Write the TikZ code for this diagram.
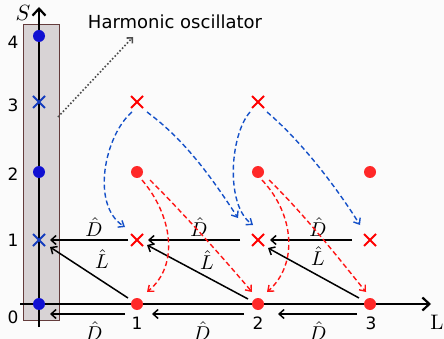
\documentclass[tikz,border=0pt]{standalone}
\usepackage{fontspec}
\setsansfont{DejaVu Sans}
\usetikzlibrary{arrows.meta,shapes.misc,calc}
\definecolor{mblue}{RGB}{16,16,210}
\definecolor{xblue}{RGB}{20,60,190}
\definecolor{dblue}{RGB}{20,80,200}
\definecolor{mred}{RGB}{255,40,40}
\definecolor{xred}{RGB}{255,0,0}
\definecolor{dred}{RGB}{255,20,20}
\definecolor{boxfill}{RGB}{216,211,213}
\definecolor{boxdraw}{RGB}{100,60,60}
\definecolor{bgc}{RGB}{251,251,251}
\newcommand{\opsym}[2][2]{\scalebox{#1}{$#2$}}
\begin{document}
\begin{tikzpicture}[x=1pt,y=-1pt,
  dot/.style={circle,fill=#1,inner sep=0pt,minimum size=12pt},
  xm/.style={cross out,draw=#1,line width=2pt,inner sep=0pt,minimum size=10pt},
  arr/.style={-{Straight Barb[length=5pt,width=9pt]},line width=1.5pt},
  axisline/.style={line width=2.2pt},
  bdash/.style={dash pattern=on 5pt off 3pt,draw=dblue,line width=1.4pt,-{Straight Barb[length=5pt,width=8pt]}},
  rdash/.style={dash pattern=on 5pt off 3pt,draw=dred,line width=1.4pt,-{Straight Barb[length=5pt,width=8pt]}},
  ticklab/.style={font=\fontsize{17}{19}\sffamily\selectfont,inner sep=0pt},
  op/.style={inner sep=0pt}]
\useasboundingbox[fill=bgc] (0,0) rectangle (444,339);
% oscillator box
\draw[fill=boxfill,draw=boxdraw,line width=0.8pt] (23,24) rectangle (59,320);
% axes
\coordinate (yb) at (39,327);
\coordinate (yt) at (39,7);
\coordinate (xl) at (20,304);
\coordinate (xr) at (431,304);
\draw[axisline,-{Straight Barb[length=7pt,width=13pt]}] (yb) -- (yt);
\draw[axisline,-{Straight Barb[length=7pt,width=13pt]}] (xl) -- (xr);
\node[op] (Slab) at (23,13) {\opsym[2.2]{S}};
\node[op] (Llab) at (437,322) {\opsym[2.1]{\mathrm{L}}};
% tick labels
\node[ticklab] (t0) at (13,317) {0};
\node[ticklab] (t1) at (13,240) {1};
\node[ticklab] (t2) at (13,174) {2};
\node[ticklab] (t3) at (13,105) {3};
\node[ticklab] (t4) at (13,42) {4};
\node[ticklab] (l1) at (137,323) {1};
\node[ticklab] (l2) at (258,323) {2};
\node[ticklab] (l3) at (371,323) {3};
% blue markers
\node[dot=mblue] (bd4) at (39,36) {};
\node[xm=xblue] (bx3) at (39,102) {};
\node[dot=mblue] (bd2) at (39,172) {};
\node[xm=xblue] (bx1) at (39,240) {};
\node[dot=mblue] (bd0) at (39,304) {};
% red markers
\node[dot=mred] (rd01) at (137,304) {};
\node[dot=mred] (rd02) at (258,304) {};
\node[dot=mred] (rd03) at (370,304) {};
\node[xm=xred] (rx1) at (137,240) {};
\node[xm=xred] (rx2) at (258,240) {};
\node[xm=xred] (rx3) at (370,240) {};
\node[dot=mred] (rd21) at (137,172) {};
\node[dot=mred] (rd22) at (258,172) {};
\node[dot=mred] (rd23) at (370,172) {};
\node[xm=xred] (rxt1) at (137,102) {};
\node[xm=xred] (rxt2) at (258,102) {};
% harmonic oscillator label
\node[font=\fontsize{18}{20}\sffamily\selectfont,inner sep=0pt] (ho) at (175,22) {Harmonic oscillator};
\coordinate (hoa) at (58,117);
\coordinate (hob) at (133,37);
\draw[dotted,line width=1.6pt,draw=gray!60!black,-{Straight Barb[length=4pt,width=8pt]}] (hoa) -- (hob);
% D arrows level 1
\draw[arr] ($(rx1)+(-9,0)$) -- ($(bx1)+(11,0)$);
\draw[arr] ($(rx2)+(-18,0)$) -- ($(rx1)+(11,0)$);
\draw[arr] ($(rx3)+(-18,0)$) -- ($(rx2)+(12,0)$);
\node[op] (D1) at (94,227) {\opsym{\hat D}};
\node[op] (D2) at (199,227) {\opsym{\hat D}};
\node[op] (D3) at (318,227) {\opsym{\hat D}};
% L arrows
\draw[arr] ($(rd01)+(-9,-6)$) -- ($(bx1)+(11,7)$);
\draw[arr] ($(rd02)+(-10,-5)$) -- ($(rx1)+(10,5)$);
\draw[arr] ($(rd03)+(-11,-6)$) -- ($(rx2)+(10,8)$);
\node[op] (L1) at (102,259) {\opsym{\hat L}};
\node[op] (L2) at (207,260) {\opsym{\hat L}};
\node[op] (L3) at (318,256) {\opsym{\hat L}};
% bottom D arrows
\draw[arr] ($(rd01)+(-12,10)$) -- ($(bd0)+(11,10)$);
\draw[arr] ($(rd02)+(-14,10)$) -- ($(rd01)+(15,10)$);
\draw[arr] ($(rd03)+(-13,10)$) -- ($(rd02)+(20,10)$);
\node[op] (B1) at (94,331) {\opsym{\hat D}};
\node[op] (B2) at (202,331) {\opsym{\hat D}};
\node[op] (B3) at (318,331) {\opsym{\hat D}};
% blue dashed curves
\draw[bdash] ($(rxt1)+(-5,10)$) .. controls (105,135) and (90,205) .. ($(rx1)+(-12,-13)$);
\draw[bdash] ($(rxt1)+(10,10)$) .. controls (185,140) and (212,178) .. ($(rx2)+(-20,-22)$);
\draw[bdash] ($(rxt2)+(-8,10)$) .. controls (230,135) and (225,205) .. ($(rx2)+(-5,-15)$);
\draw[bdash] ($(rxt2)+(9,10)$) .. controls (300,140) and (335,185) .. ($(rx3)+(-10,-15)$);
% red dashed curves
\draw[rdash] ($(rd21)+(5,8)$) .. controls (172,215) and (180,265) .. ($(rd01)+(10,-12)$);
\draw[rdash] ($(rd21)+(13,8)$) .. controls (185,215) and (225,260) .. ($(rd02)+(-6,-12)$);
\draw[rdash] ($(rd22)+(4,8)$) .. controls (295,215) and (298,265) .. ($(rd02)+(9,-12)$);
\draw[rdash] ($(rd22)+(11,8)$) .. controls (305,215) and (340,260) .. ($(rd03)+(-4,-12)$);
\end{tikzpicture}
\end{document}
